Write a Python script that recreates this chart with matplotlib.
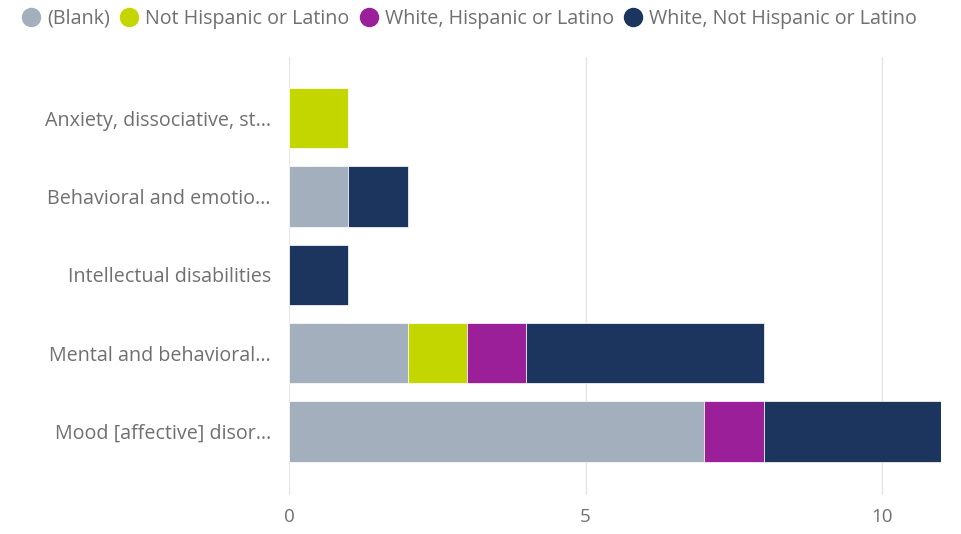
import numpy as np
import matplotlib.pyplot as plt
from matplotlib.lines import Line2D

# categories (labels truncated as in the report)
categories = [
    "Anxiety, dissociative, st…",
    "Behavioral and emotio…",
    "Intellectual disabilities",
    "Mental and behavioral…",
    "Mood [affective] disor…",
]
series_names = ["(Blank)", "Not Hispanic or Latino",
                "White, Hispanic or Latino", "White, Not Hispanic or Latino"]
blank = [0, 1, 0, 2, 7]
not_hispanic = [1, 0, 0, 1, 0]
white_hispanic = [0, 0, 0, 1, 1]
white_not_hispanic = [0, 1, 1, 4, 3]
colors = ["#A3AFBD", "#C4D600", "#9B1F99", "#1C355E"]

plt.rcParams['font.family'] = ['Open Sans', 'DejaVu Sans']

fig = plt.figure(figsize=(9.61, 5.34), dpi=100)
ax = fig.add_axes([0.3007, 0.073, 0.679, 0.8203])

y = np.arange(len(categories))
left = np.zeros(len(categories))
for name, vals, c in zip(series_names,
                         [blank, not_hispanic, white_hispanic, white_not_hispanic],
                         colors):
    vals = np.array(vals, dtype=float)
    ax.barh(y, vals, left=left, height=0.77, color=c, edgecolor='white',
            linewidth=0.5, zorder=3)
    left += vals

ax.set_xlim(0, 11)
ax.set_ylim(4.81, -0.78)
ax.set_yticks(y)
ax.set_yticklabels(categories)
ax.set_xticks([0, 5, 10])
ax.tick_params(axis='y', length=0, pad=13, labelsize=14.2, labelcolor='#707070')
ax.tick_params(axis='x', length=0, pad=9, labelsize=13.5, labelcolor='#707070')
ax.grid(axis='x', color='#E6E6E6', linewidth=1, zorder=0)
for s in ax.spines.values():
    s.set_visible(False)

handles = [Line2D([], [], marker='o', linestyle='none', markersize=13,
                  markerfacecolor=c, markeredgecolor=c) for c in colors]
fig.legend(handles, series_names, loc='upper left', bbox_to_anchor=(0.004, 1.017),
           ncol=4, frameon=False, handletextpad=0.3, columnspacing=0.48,
           handlelength=1.0, fontsize=14.2, labelcolor='#707070')

fig.savefig('out.png', dpi=100)
